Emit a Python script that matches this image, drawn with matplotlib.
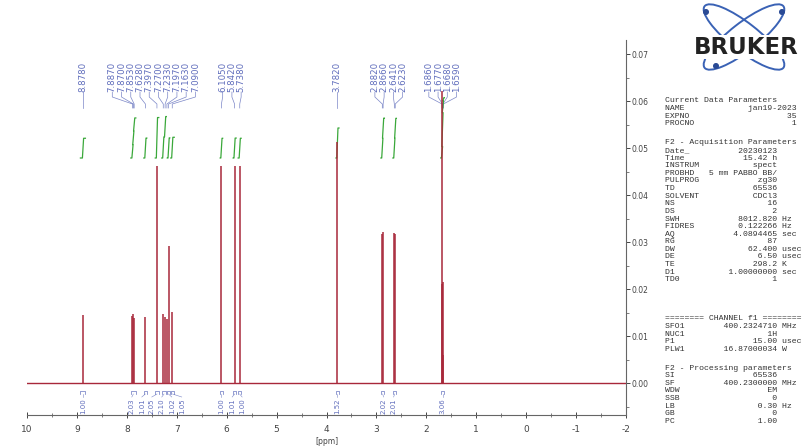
import numpy as np
import matplotlib
matplotlib.use("Agg")
import matplotlib.pyplot as plt
from matplotlib.patches import Ellipse, Circle
from matplotlib.ticker import MultipleLocator, FixedLocator

W, H = 808, 447

# 1H peak list: shift (ppm), intensity, label group
peak_ppm = [8.8780,
            7.8870, 7.8700, 7.8530, 7.6280, 7.3970, 7.2700, 7.2330, 7.1970, 7.1630, 7.0900,
            6.1050, 5.8420, 5.7380,
            3.7820,
            2.8820, 2.8660, 2.6410, 2.6230,
            1.6860, 1.6770, 1.6680, 1.6590]
peak_height = [0.0145,
               0.0142, 0.0146, 0.0138, 0.0141, 0.0462, 0.0146, 0.0141, 0.0137, 0.0291, 0.0151,
               0.0462, 0.0462, 0.0462,
               0.0512,
               0.0318, 0.0321, 0.0320, 0.0317,
               0.0210, 0.0622, 0.0215, 0.0060]
peak_group = [0,
              1, 1, 1, 1, 1, 1, 1, 1, 1, 1,
              2, 2, 2,
              3,
              4, 4, 4, 4,
              5, 5, 5, 5]

# integral regions (ppm) and their values
integral_start = [8.93, 7.92, 7.66, 7.43, 7.30, 7.19, 7.12, 6.13, 5.87, 5.77, 3.81, 2.91, 2.67, 1.71]
integral_end = [8.83, 7.82, 7.60, 7.36, 7.21, 7.14, 7.05, 6.08, 5.81, 5.71, 3.75, 2.84, 2.60, 1.64]
integral_value = [1.00, 2.03, 1.01, 2.05, 2.10, 1.02, 1.05, 1.00, 1.01, 1.00, 1.52, 2.02, 2.01, 3.06]

x_ticks = list(range(10, -3, -1))
y_ticks = [0.00, 0.01, 0.02, 0.03, 0.04, 0.05, 0.06, 0.07]

# acquisition / processing parameter blocks
block_current = [("Current Data Parameters", "", ""), ("NAME", "jan19-2023", ""),
                 ("EXPNO", "35", ""), ("PROCNO", "1", "")]
block_acq = [("F2 - Acquisition Parameters", "", ""), ("Date_", "20230123", ""),
             ("Time", "15.42 h", ""), ("INSTRUM", "spect", ""),
             ("PROBHD", "5 mm PABBO BB/", ""), ("PULPROG", "zg30", ""),
             ("TD", "65536", ""), ("SOLVENT", "CDCl3", ""), ("NS", "16", ""),
             ("DS", "2", ""), ("SWH", "8012.820", "Hz"), ("FIDRES", "0.122266", "Hz"),
             ("AQ", "4.0894465", "sec"), ("RG", "87", ""), ("DW", "62.400", "usec"),
             ("DE", "6.50", "usec"), ("TE", "298.2", "K"), ("D1", "1.00000000", "sec"),
             ("TD0", "1", "")]
block_chan = [("======== CHANNEL f1 ========", "", ""), ("SFO1", "400.2324710", "MHz"),
              ("NUC1", "1H", ""), ("P1", "15.00", "usec"), ("PLW1", "16.87000034", "W")]
block_proc = [("F2 - Processing parameters", "", ""), ("SI", "65536", ""),
              ("SF", "400.2300000", "MHz"), ("WDW", "EM", ""), ("SSB", "0", ""),
              ("LB", "0.30", "Hz"), ("GB", "0", ""), ("PC", "1.00", "")]

SPEC = "#a8283a"
BLUE = "#4353b0"
GREEN = "#3aa83a"

AX_L, AX_R, AX_T, AX_B = 27, 626, 40, 415
Y_LO, Y_HI = -0.0068, 0.073


def ypx(py):
    return Y_LO + (AX_B - py) / (AX_B - AX_T) * (Y_HI - Y_LO)


def spread(centers, gap, step):
    # chain neighbouring positions closer than gap and fan them out evenly
    out, chain = [], [centers[0]]
    for c in centers[1:]:
        if chain[-1] - c < gap:
            chain.append(c)
        else:
            out.append(chain)
            chain = [c]
    out.append(chain)
    pos = []
    for ch in out:
        m, n = np.mean(ch), len(ch)
        pos += [m + ((n - 1) / 2 - i) * step for i in range(n)]
    return pos


fig = plt.figure(figsize=(W / 100, H / 100), dpi=100)
ax = fig.add_axes([AX_L / W, 1 - AX_B / H, (AX_R - AX_L) / W, (AX_B - AX_T) / H])
ax.set_xlim(10, -2)
ax.set_ylim(Y_LO, Y_HI)

# spectrum: baseline plus peak lines
ax.plot([10, -2], [0, 0], color=SPEC, lw=1.0, zorder=3)
ax.vlines(peak_ppm, 0, peak_height, color=SPEC, lw=1.1, zorder=3)

# peak labels with leader lines
ppm_arr = np.array(peak_ppm)
grp_arr = np.array(peak_group)
for g in np.unique(grp_arr):
    shifts = ppm_arr[grp_arr == g]
    n = len(shifts)
    center = shifts.mean()
    for i, p in enumerate(shifts):
        lx = center + ((n - 1) / 2 - i) * 0.185
        ax.text(lx, ypx(92), f"{p:.4f}", rotation=90, ha="center", va="bottom",
                fontsize=6.2, color=BLUE, alpha=0.85)
        ax.plot([lx, lx, p, p], [ypx(92), ypx(97), ypx(104), ypx(108)],
                color=BLUE, lw=0.5, alpha=0.7)

# integral curves and labels
int_base = ypx(158)
int_scale = 0.0042
int_mid = [(s + e) / 2 for s, e in zip(integral_start, integral_end)]
int_lab = spread(int_mid, 0.25, 0.2)
for s, e, v, lx in zip(integral_start, integral_end, integral_value, int_lab):
    mask = (ppm_arr <= s) & (ppm_arr >= e)
    pk = sorted(zip(ppm_arr[mask], np.array(peak_height)[mask]), reverse=True)
    tot = sum(h for _, h in pk)
    xs, ys, cur = [s], [int_base], int_base
    for p, h in pk:
        inc = h / tot * v * int_scale
        xs += [p + 0.012, p - 0.012]
        ys += [cur, cur + inc]
        cur += inc
    xs.append(e)
    ys.append(cur)
    ax.plot(xs, ys, color=GREEN, lw=0.9)

    ax.plot([s, s, e, e], [ypx(394), ypx(391), ypx(391), ypx(394)],
            color=BLUE, lw=0.5, alpha=0.8)
    ax.plot([(s + e) / 2, lx], [ypx(394), ypx(397)], color=BLUE, lw=0.4, alpha=0.7)
    ax.text(lx, ypx(398), f"{v:.2f}", rotation=90, ha="center", va="top",
            fontsize=5, color=BLUE, alpha=0.85)

# axes styling
for side in ("left", "top"):
    ax.spines[side].set_visible(False)
for side in ("right", "bottom"):
    ax.spines[side].set_color("#666666")
    ax.spines[side].set_linewidth(0.8)

ax.xaxis.set_major_locator(FixedLocator(x_ticks))
ax.xaxis.set_minor_locator(MultipleLocator(0.5))
ax.set_xticklabels([str(t) for t in x_ticks])
ax.tick_params(axis="x", which="major", direction="inout", length=5, width=0.7,
               labelsize=6.5, colors="#444444", pad=5)
ax.tick_params(axis="x", which="minor", direction="inout", length=3, width=0.6,
               colors="#666666")

ax.yaxis.tick_right()
ax.yaxis.set_major_locator(FixedLocator(y_ticks))
ax.yaxis.set_minor_locator(MultipleLocator(0.005))
ax.set_yticklabels([f"{t:.2f}" for t in y_ticks])
ax.tick_params(axis="y", which="major", direction="out", length=3, width=0.7,
               labelsize=5.5, colors="#444444", pad=1)
ax.tick_params(axis="y", which="minor", direction="out", length=2, width=0.6,
               colors="#666666")
ax.text(4, ypx(441), "[ppm]", ha="center", va="center", fontsize=5.5, color="#444444")

# logo
lg = fig.add_axes([655 / W, 1 - 80 / H, 153 / W, 80 / H])
lg.set_xlim(655, 808)
lg.set_ylim(80, 0)
lg.axis("off")
for ang in (38, -38):
    lg.add_patch(Ellipse((744, 37), 100, 28, angle=ang, fill=False,
                         ec="#3a62b5", lw=1.4))
for cx, cy in ((706, 12), (716, 66), (782, 12)):
    lg.add_patch(Circle((cx, cy), 2.3, color="#2a4a95"))
lg.text(746, 47, "BRUKER", ha="center", va="center", fontsize=16.5,
        fontweight="bold", color="#222222", family="DejaVu Sans",
        bbox=dict(fc="white", ec="none", pad=0.3))

# parameter listing
def draw_block(rows, y0, width=23, step=7.6):
    for k, (key, val, unit) in enumerate(rows):
        if val:
            line = key + val.rjust(width - len(key))
            if unit:
                line += " " + unit
        else:
            line = key
        fig.text(665 / W, 1 - (y0 + k * step) / H, line, ha="left", va="center",
                 fontsize=5.9, family="Liberation Mono", color="#333333")


draw_block(block_current, 101, width=27)
draw_block(block_acq, 143)
draw_block(block_chan, 319)
draw_block(block_proc, 368)

fig.savefig("out.png", dpi=100)
